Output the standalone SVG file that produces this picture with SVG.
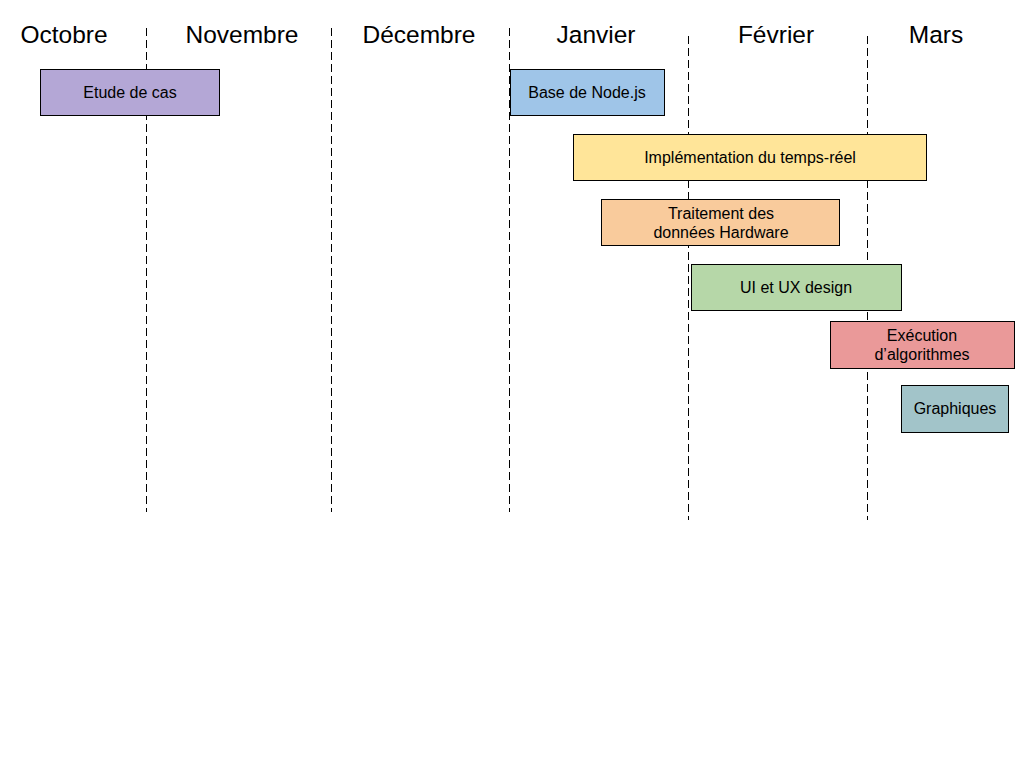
<svg xmlns="http://www.w3.org/2000/svg" width="1024" height="768" viewBox="0 0 1024 768">
<style>
.m{font-family:"Liberation Sans",Arial,sans-serif;font-size:24.5px;fill:#000;text-anchor:middle}
.t{font-family:"Liberation Sans",Arial,sans-serif;font-size:16px;fill:#000;text-anchor:middle}
.b{stroke:#000;stroke-width:1}
.d{stroke:#000;stroke-width:1;stroke-dasharray:8 4;fill:none}
</style>
<rect width="1024" height="768" fill="#fff"/>
<g id="connectors">
<line class="d" x1="146.5" y1="28" x2="146.5" y2="512"/>
<line class="d" x1="331.5" y1="28" x2="331.5" y2="512"/>
<line class="d" x1="509.5" y1="28" x2="509.5" y2="512"/>
<line class="d" x1="688.5" y1="36" x2="688.5" y2="520"/>
<line class="d" x1="867.5" y1="36" x2="867.5" y2="520"/>
</g>
<g id="months">
<text class="m" x="64" y="43">Octobre</text>
<text class="m" x="242" y="43">Novembre</text>
<text class="m" x="419" y="43">Décembre</text>
<text class="m" x="596" y="43">Janvier</text>
<text class="m" x="776" y="43">Février</text>
<text class="m" x="936" y="43">Mars</text>
</g>
<g id="etude"><rect class="b" x="40.5" y="69.5" width="179" height="46" fill="#b4a7d6"/><text class="t" x="130" y="98">Etude de cas</text></g>
<g id="node"><rect class="b" x="510.5" y="69.5" width="154" height="46" fill="#9fc5e8"/><text class="t" x="587" y="98">Base de Node.js</text></g>
<g id="temps"><rect class="b" x="573.5" y="134.5" width="353" height="46" fill="#ffe599"/><text class="t" x="750" y="163">Implémentation du temps-réel</text></g>
<g id="hardware"><rect class="b" x="601.5" y="199.5" width="238" height="46" fill="#f9cb9c"/><text class="t" x="721" y="219">Traitement des</text><text class="t" x="721" y="238">données Hardware</text></g>
<g id="ui"><rect class="b" x="691.5" y="264.5" width="210" height="46" fill="#b6d7a8"/><text class="t" x="796" y="293">UI et UX design</text></g>
<g id="algo"><rect class="b" x="830.5" y="321.5" width="184" height="47" fill="#ea9999"/><text class="t" x="922" y="341">Exécution</text><text class="t" x="922" y="360">d’algorithmes</text></g>
<g id="graph"><rect class="b" x="901.5" y="385.5" width="107" height="47" fill="#a2c4c9"/><text class="t" x="955" y="414">Graphiques</text></g>
</svg>
